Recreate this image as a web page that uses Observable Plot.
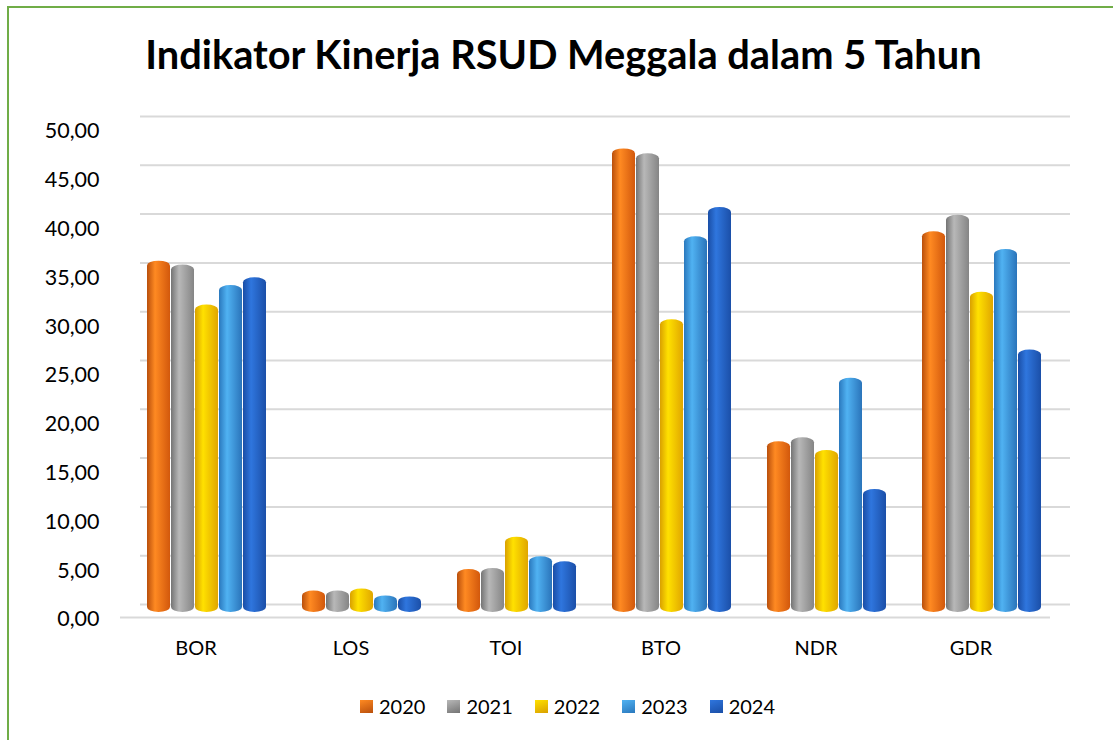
<!DOCTYPE html>
<html>
<head>
<meta charset="utf-8">
<script src="https://cdn.jsdelivr.net/npm/d3@7"></script>
<script src="https://cdn.jsdelivr.net/npm/@observablehq/plot@0.6"></script>
<style>
  html, body { margin: 0; padding: 0; background: #fff; }
  #wrap { position: relative; width: 1113px; height: 740px; overflow: hidden; font-family: Lato, "Open Sans", sans-serif; }
  #border { position: absolute; left: 7px; top: 6px; width: 1300px; height: 900px; border-left: 2px solid #70ad47; border-top: 2px solid #70ad47; box-sizing: border-box; }
  #title { position: absolute; left: 7px; top: 0; width: 1113px; height: 100px; line-height: 108px; text-align: center; font-weight: bold; font-size: 39.8px; color: #000; }
  #chart { position: absolute; left: 0; top: 100px; }
  #legend { position: absolute; left: 360px; top: 694px; display: flex; align-items: center; font-size: 20px; color: #000; }
  .item { display: flex; align-items: center; margin-right: 22px; }
  .sw { width: 13px; height: 13px; margin-right: 6px; }
</style>
</head>
<body>
<div id="wrap">
  <div id="border"></div>
  <div id="title">Indikator Kinerja RSUD Meggala dalam 5 Tahun</div>
  <div id="chart"></div>
  <div id="legend"></div>
</div>
<script>
const categories = ["BOR", "LOS", "TOI", "BTO", "NDR", "GDR"];
const years = ["2020", "2021", "2022", "2023", "2024"];
const v2020 = [36.0, 2.2, 4.4, 47.5, 17.5, 39.0];
const v2021 = [35.6, 2.2, 4.5, 47.0, 17.9, 40.7];
const v2022 = [31.5, 2.4, 7.7, 30.0, 16.6, 32.8];
const v2023 = [33.5, 1.7, 5.7, 38.5, 24.0, 37.2];
const v2024 = [34.3, 1.6, 5.2, 41.5, 12.6, 26.9];
const yTicks = [0, 5, 10, 15, 20, 25, 30, 35, 40, 45, 50];

const series = [v2020, v2021, v2022, v2023, v2024];
const gradients = {
  "2020": ["#b94f0c", "#ff8a22", "#d2580c"],
  "2021": ["#747474", "#b8b8b8", "#858585"],
  "2022": ["#d9a000", "#ffe100", "#e0a600"],
  "2023": ["#2a78bd", "#50b2f2", "#2a74ba"],
  "2024": ["#1a4ea6", "#2f76de", "#1b4fa8"]
};

const data = categories.flatMap((c, i) => years.map((y, j) => ({category: c, year: y, value: series[j][i]})));
const fmt = d => d.toFixed(2).replace(".", ",");

const plot = Plot.plot({
  width: 1113,
  height: 572,
  marginLeft: 127,
  marginRight: 52,
  marginTop: 24,
  marginBottom: 60,
  style: {fontFamily: "Lato, 'Open Sans', sans-serif", fontSize: "20px", color: "#000", background: "transparent"},
  fx: {domain: categories, padding: 0, axis: null},
  x: {domain: years, paddingInner: 0.04, paddingOuter: 0.72, axis: null},
  y: {domain: [0, 50], axis: null},
  color: {domain: years, range: years.map(y => `url(#g${y})`)},
  marks: [
    Plot.ruleY(yTicks, {y: d => d, stroke: "#d9d9d9", strokeWidth: 2, dy: -8, dx: 11}),
    Plot.ruleY([0], {y: d => d, stroke: "#d9d9d9", strokeWidth: 2, dy: 5, dx: -9}),
    Plot.barY(data, {fx: "category", x: "year", y: "value", fill: "year", rx: 12, ry: 5}),
    Plot.axisY({ticks: yTicks, tickFormat: fmt, tickSize: 0, tickPadding: 30, dy: 7, label: null, fontSize: 21.5}),
    Plot.axisFx({anchor: "bottom", tickSize: 0, tickPadding: 28, dx: -11, label: null, fontSize: 20})
  ]
});

const defs = d3.select(plot).insert("defs", ":first-child");
for (const y of years) {
  const g = defs.append("linearGradient").attr("id", "g" + y).attr("x1", "0%").attr("x2", "100%").attr("y1", "0%").attr("y2", "0%");
  const [a, b, c] = gradients[y];
  g.append("stop").attr("offset", "0%").attr("stop-color", a);
  g.append("stop").attr("offset", "35%").attr("stop-color", b);
  g.append("stop").attr("offset", "100%").attr("stop-color", c);
}
document.getElementById("chart").appendChild(plot);

const legend = document.getElementById("legend");
for (const y of years) {
  const [a, b, c] = gradients[y];
  const item = document.createElement("div");
  item.className = "item";
  const sw = document.createElement("div");
  sw.className = "sw";
  sw.style.background = `linear-gradient(160deg, ${b} 0%, ${a} 100%)`;
  const t = document.createElement("span");
  t.textContent = y;
  item.appendChild(sw);
  item.appendChild(t);
  legend.appendChild(item);
}
</script>
</body>
</html>
